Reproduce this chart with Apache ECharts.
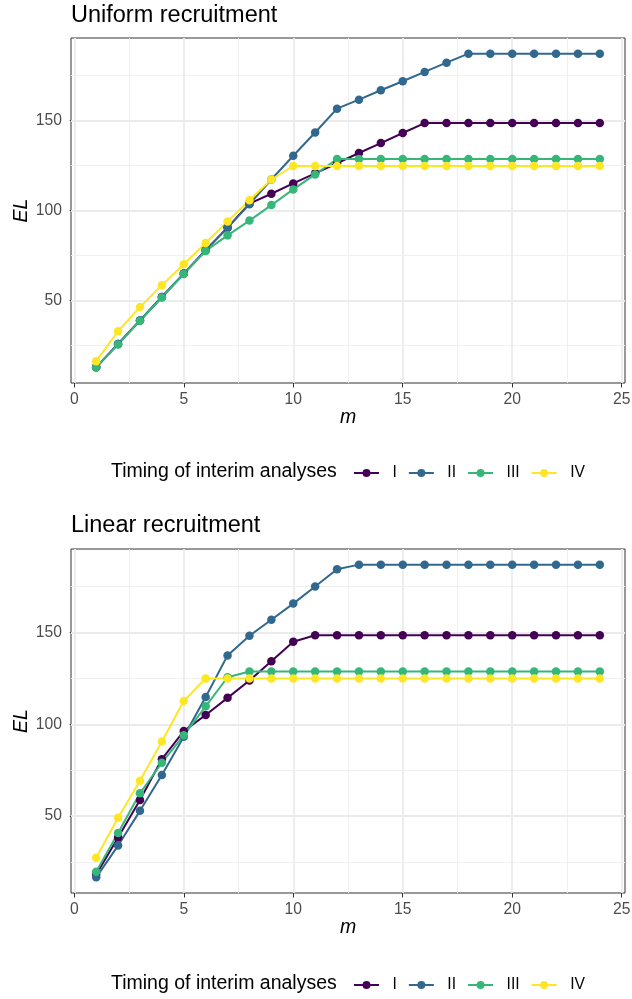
<!DOCTYPE html>
<html><head><meta charset="utf-8">
<script src="https://cdn.jsdelivr.net/npm/echarts@6/dist/echarts.min.js"></script>
<style>html,body{margin:0;padding:0;background:#fff}#c{width:632px;height:999px}</style>
</head><body><div id="c"></div>
<script>
const m = [1,2,3,4,5,6,7,8,9,10,11,12,13,14,15,16,17,18,19,20,21,22,23,24];

const uniformI   = [13,26,39,52,65,78,90.5,103.8,109.3,115,120.6,126.2,131.9,137.4,143,148.5,148.5,148.5,148.5,148.5,148.5,148.5,148.5,148.5];
const uniformII  = [13,26,39,52,65,78,90.5,103.5,117.2,130.4,143.3,156.5,161.5,166.7,171.7,176.9,182,187,187,187,187,187,187,187];
const uniformIII = [13,25.7,38.9,51.8,64.8,77.6,86.2,94.4,103,111.7,120,128.6,128.6,128.6,128.6,128.6,128.6,128.6,128.6,128.6,128.6,128.6,128.6,128.6];
const uniformIV  = [16.4,33,46.4,58.5,70.2,82,93.9,105.7,117.2,124.7,124.7,124.7,124.7,124.7,124.7,124.7,124.7,124.7,124.7,124.7,124.7,124.7,124.7,124.7];

const linearI   = [18.3,38.4,58.8,81,96.3,105.1,114.4,123.8,134.3,144.9,148.5,148.5,148.5,148.5,148.5,148.5,148.5,148.5,148.5,148.5,148.5,148.5,148.5,148.5];
const linearII  = [16.7,34,52.9,72.4,93.2,114.9,137.5,148.2,156.9,165.7,175,184.4,186.9,186.9,186.9,186.9,186.9,186.9,186.9,186.9,186.9,186.9,186.9,186.9];
const linearIII = [19.8,40.8,62.5,79.1,94,109.8,125.6,128.7,128.7,128.7,128.7,128.7,128.7,128.7,128.7,128.7,128.7,128.7,128.7,128.7,128.7,128.7,128.7,128.7];
const linearIV  = [27.4,49.1,69.3,90.6,112.7,124.9,124.9,124.9,124.9,124.9,124.9,124.9,124.9,124.9,124.9,124.9,124.9,124.9,124.9,124.9,124.9,124.9,124.9,124.9];

const groupNames = ['I','II','III','IV'];
const panelTitles = ['Uniform recruitment','Linear recruitment'];
const legendTitle = 'Timing of interim analyses';
const xTicks = [0,5,10,15,20,25];
const xMinor = [2.5,7.5,12.5,17.5,22.5];
const yTicks = [50,100,150];
const yMinor = [25,75,125,175];

const panels = [
  [uniformI, uniformII, uniformIII, uniformIV],
  [linearI, linearII, linearIII, linearIV]
];

const colors = ['#440154','#31688E','#35B779','#FDE725'];
const FONT = 'Liberation Sans, Arial, sans-serif';

function range(arrs){
  let lo = Infinity, hi = -Infinity;
  arrs.forEach(a => a.forEach(v => { lo = Math.min(lo, v); hi = Math.max(hi, v); }));
  const pad = (hi - lo) * 0.05;
  return [lo - pad, hi + pad];
}
const xPad = (m[m.length-1] - m[0]) * 0.05;

const gridTops = [38, 549];
const gridHeights = [345, 344];
const legendTops = [465, 977];
const legendTitleTops = [462, 974];
const titleTops = [4, 514];

const grids = [], xAxes = [], yAxes = [], series = [], titles = [], legends = [];

panels.forEach((sets, gi) => {
  grids.push({left:71, top:gridTops[gi], width:554, height:gridHeights[gi], show:true,
    borderColor:'#333333', borderWidth:1, backgroundColor:'transparent',
    containLabel:false, outerBoundsMode:'none'});
  xAxes.push({type:'value', gridIndex:gi, min:m[0]-xPad, max:m[m.length-1]+xPad,
    splitLine:{show:false}, axisLine:{show:false},
    axisTick:{show:true, customValues:xTicks, length:4.5, lineStyle:{color:'#333333', width:1}},
    axisLabel:{customValues:xTicks, margin:8.5, color:'#4D4D4D', fontSize:15.7, fontFamily:FONT},
    name:'m', nameLocation:'middle', nameGap:25, nameMoveOverlap:false,
    nameTextStyle:{fontStyle:'italic', fontSize:19.5, color:'#000', fontFamily:FONT}});
  const yr = range(sets);
  yAxes.push({type:'value', gridIndex:gi, min:yr[0], max:yr[1],
    splitLine:{show:false}, axisLine:{show:false},
    axisTick:{show:true, customValues:yTicks, length:4.5, lineStyle:{color:'#333333', width:1}},
    axisLabel:{customValues:yTicks, margin:9, color:'#4D4D4D', fontSize:15.7, fontFamily:FONT},
    name:'EL', nameLocation:'middle', nameGap:39, nameRotate:90, nameMoveOverlap:false,
    nameTextStyle:{fontStyle:'italic', fontSize:19.5, color:'#000', fontFamily:FONT}});

  const major = {color:'#EBEBEB', width:1.8, type:'solid'};
  const minor = {color:'#F0F0F0', width:1, type:'solid'};
  series.push({type:'line', xAxisIndex:gi, yAxisIndex:gi, data:[], silent:true, z:1,
    markLine:{silent:true, z:1, symbol:['none','none'], label:{show:false}, animation:false,
      emphasis:{disabled:true},
      data:[].concat(
        xMinor.map(v => ({xAxis:v, lineStyle:minor})),
        yMinor.map(v => ({yAxis:v, lineStyle:minor})),
        xTicks.map(v => ({xAxis:v, lineStyle:major})),
        yTicks.map(v => ({yAxis:v, lineStyle:major}))
      )}});

  titles.push({text:panelTitles[gi], left:71, top:titleTops[gi], padding:0,
    textStyle:{fontSize:23.5, fontWeight:'normal', color:'#000', fontFamily:FONT}});
  titles.push({text:legendTitle, left:111, top:legendTitleTops[gi], padding:0,
    textStyle:{fontSize:19.5, fontWeight:'normal', color:'#000', fontFamily:FONT}});
  legends.push({data:groupNames, left:353, top:legendTops[gi], padding:0, orient:'horizontal',
    itemWidth:25, itemHeight:10, itemGap:11, selectedMode:false,
    formatter: n => '{p|' + n + '}',
    textStyle:{color:'#000', fontSize:15.7, fontFamily:FONT,
      rich:{p:{padding:[0,0,0,8.5], color:'#000', fontSize:15.7, fontFamily:FONT}}}});
});

panels.forEach((sets, gi) => {
  sets.forEach((vals, k) => {
    series.push({type:'line', name:groupNames[k], xAxisIndex:gi, yAxisIndex:gi,
      data:m.map((x,i) => [x, vals[i]]), showSymbol:false, symbol:'circle', symbolSize:8.5,
      lineStyle:{width:2, color:colors[k]}, itemStyle:{color:colors[k]}, z:3, animation:false});
  });
});
panels.forEach((sets, gi) => {
  sets.forEach((vals, k) => {
    series.push({type:'scatter', name:groupNames[k], xAxisIndex:gi, yAxisIndex:gi,
      data:m.map((x,i) => [x, vals[i]]), symbol:'circle', symbolSize:8.5,
      itemStyle:{color:colors[k], opacity:1}, z:4, animation:false});
  });
});

const chart = echarts.init(document.getElementById('c'), null, {renderer:'canvas'});
chart.setOption({
  backgroundColor:'#ffffff',
  animation:false,
  title:titles,
  legend:legends,
  grid:grids,
  xAxis:xAxes,
  yAxis:yAxes,
  series:series
});
</script></body></html>
